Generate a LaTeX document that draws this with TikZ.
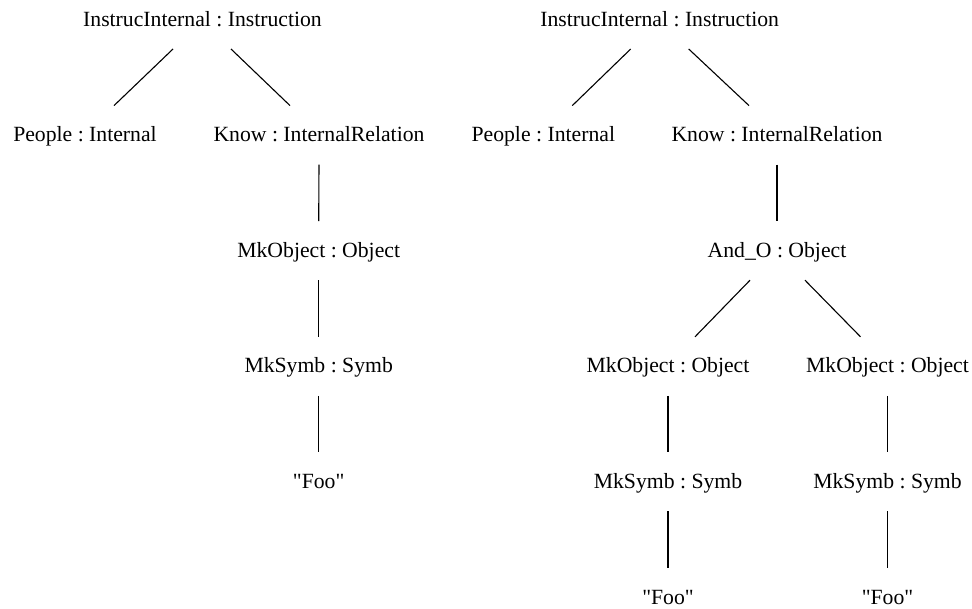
\documentclass[tikz,border=0pt]{standalone}
\usepackage{fontspec}
\setmainfont{Liberation Serif}[Ligatures=TeXOff]
\frenchspacing
\begin{document}
\begin{tikzpicture}[x=1pt,y=-1pt,
  lbl/.style={anchor=base,inner sep=0pt,font=\fontsize{21.7}{26}\selectfont},
  edge/.style={line width=1.1pt,black}]
\useasboundingbox (0,0) rectangle (972,608);
% left tree
\node[lbl] (Lr) at (202.5,26) {InstrucInternal : Instruction};
\node[lbl] (Lp) at (85,141.6) {People : Internal};
\node[lbl] (Lk) at (319,141.6) {Know : InternalRelation};
\node[lbl] (Lo) at (318.7,257.2) {MkObject : Object};
\node[lbl] (Ls) at (318.7,372.8) {MkSymb : Symb};
\node[lbl] (Lf) at (318.7,488.4) {"Foo"};
\draw[edge] ([shift={(-29.5,23)}]Lr.base) -- ([shift={(29,-36)}]Lp.base);
\draw[edge] ([shift={(28.5,23)}]Lr.base) -- ([shift={(-29,-36)}]Lk.base);
\draw[edge] ([shift={(0,23)}]Lk.base) -- ([shift={(0,-36)}]Lo.base);
\draw[edge] ([shift={(0,23)}]Lo.base) -- ([shift={(0,-36)}]Ls.base);
\draw[edge] ([shift={(0,23)}]Ls.base) -- ([shift={(0,-36)}]Lf.base);
% right tree
\node[lbl] (Rr) at (659.7,26) {InstrucInternal : Instruction};
\node[lbl] (Rp) at (543.3,141.6) {People : Internal};
\node[lbl] (Rk) at (777,141.6) {Know : InternalRelation};
\node[lbl] (Ra) at (777,257.2) {And\_O : Object};
\node[lbl] (Ro1) at (668,372.8) {MkObject : Object};
\node[lbl] (Ro2) at (887.5,372.8) {MkObject : Object};
\node[lbl] (Rs1) at (668,488.4) {MkSymb : Symb};
\node[lbl] (Rs2) at (887.5,488.4) {MkSymb : Symb};
\node[lbl] (Rf1) at (668,604) {"Foo"};
\node[lbl] (Rf2) at (887.5,604) {"Foo"};
\draw[edge] ([shift={(-29,23)}]Rr.base) -- ([shift={(29,-36)}]Rp.base);
\draw[edge] ([shift={(29,23)}]Rr.base) -- ([shift={(-28,-36)}]Rk.base);
\draw[edge] ([shift={(0,23)}]Rk.base) -- ([shift={(0,-36)}]Ra.base);
\draw[edge] ([shift={(-27,23)}]Ra.base) -- ([shift={(27,-36)}]Ro1.base);
\draw[edge] ([shift={(28,23)}]Ra.base) -- ([shift={(-27,-36)}]Ro2.base);
\draw[edge] ([shift={(0,23)}]Ro1.base) -- ([shift={(0,-36)}]Rs1.base);
\draw[edge] ([shift={(0,23)}]Ro2.base) -- ([shift={(0,-36)}]Rs2.base);
\draw[edge] ([shift={(0,23)}]Rs1.base) -- ([shift={(0,-36)}]Rf1.base);
\draw[edge] ([shift={(0,23)}]Rs2.base) -- ([shift={(0,-36)}]Rf2.base);
\end{tikzpicture}
\end{document}
